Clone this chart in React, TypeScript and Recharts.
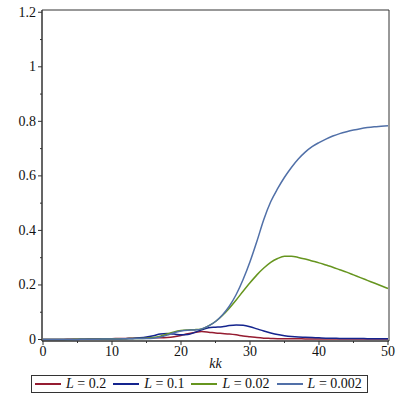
import React from 'react';
import { LineChart, Line, XAxis, YAxis, ReferenceArea } from 'recharts';

// kk values 0..50
const kk = [
  0, 1, 2, 3, 4, 5, 6, 7, 8, 9, 10, 11, 12, 13, 14, 15, 16, 17, 18, 19, 20, 21, 22, 23, 24, 25,
  26, 27, 28, 29, 30, 31, 32, 33, 34, 35, 36, 37, 38, 39, 40, 41, 42, 43, 44, 45, 46, 47, 48, 49, 50,
];

const L0_2 = [
  0, 0, 0, 0, 0.001, 0.001, 0.001, 0.002, 0.002, 0.003, 0.003, 0.004, 0.004, 0.005, 0.005, 0.006,
  0.006, 0.006, 0.007, 0.01, 0.015, 0.021, 0.026, 0.029, 0.027, 0.024, 0.022, 0.02, 0.017, 0.013,
  0.01, 0.007, 0.005, 0.004, 0.003, 0.003, 0.003, 0.003, 0.002, 0.002, 0.002, 0.002, 0.002, 0.002,
  0.002, 0.002, 0.002, 0.002, 0.002, 0.002, 0.002,
];

const L0_1 = [
  0, 0, 0, 0, 0, 0, 0.001, 0.001, 0.001, 0.002, 0.002, 0.002, 0.003, 0.004, 0.006, 0.009, 0.014,
  0.02, 0.022, 0.02, 0.017, 0.018, 0.026, 0.036, 0.043, 0.045, 0.047, 0.051, 0.053, 0.052, 0.047,
  0.039, 0.031, 0.024, 0.018, 0.014, 0.011, 0.009, 0.008, 0.007, 0.006, 0.005, 0.005, 0.004, 0.004,
  0.004, 0.004, 0.003, 0.003, 0.003, 0.003,
];

const L0_02 = [
  0, 0, 0, 0, 0, 0.001, 0.001, 0.001, 0.001, 0.002, 0.002, 0.003, 0.003, 0.004, 0.004, 0.005,
  0.007, 0.012, 0.02, 0.028, 0.033, 0.035, 0.036, 0.039, 0.05, 0.066, 0.088, 0.115, 0.145, 0.177,
  0.208, 0.237, 0.262, 0.283, 0.297, 0.305, 0.305, 0.301, 0.295, 0.288, 0.281, 0.273, 0.265, 0.256,
  0.247, 0.237, 0.227, 0.217, 0.207, 0.197, 0.187,
];

const L0_002 = [
  0, 0, 0, 0, 0, 0, 0.001, 0.001, 0.001, 0.002, 0.002, 0.002, 0.003, 0.003, 0.004, 0.004, 0.005,
  0.009, 0.016, 0.025, 0.031, 0.034, 0.035, 0.039, 0.05, 0.066, 0.09, 0.122, 0.165, 0.22, 0.285,
  0.36, 0.44, 0.505, 0.553, 0.595, 0.631, 0.662, 0.687, 0.707, 0.722, 0.735, 0.746, 0.755, 0.762,
  0.768, 0.773, 0.777, 0.78, 0.782, 0.784,
];

const xTicks = [0, 5, 10, 15, 20, 25, 30, 35, 40, 45, 50];
const yTicks = [0, 0.1, 0.2, 0.3, 0.4, 0.5, 0.6, 0.7, 0.8, 0.9, 1, 1.1, 1.2];

const series = [
  { key: 'a', value: '0.2', color: '#951c31' },
  { key: 'b', value: '0.1', color: '#14248e' },
  { key: 'c', value: '0.02', color: '#66951f' },
  { key: 'd', value: '0.002', color: '#5170a8' },
];

const data = kk.map((k, i) => ({
  kk: k,
  a: L0_2[i],
  b: L0_1[i],
  c: L0_02[i],
  d: L0_002[i],
}));

const X_DOMAIN = [-0.145, 50.145];
const Y_DOMAIN = [-0.0055, 1.2083];
const FONT = '"Liberation Serif", serif';
const AXIS = '#333';
const TEXT = '#111';

const XTick = (props: any) => {
  const { x, y, payload } = props;
  const major = payload.value % 10 === 0;
  return (
    <g>
      <line x1={x} y1={y} x2={x} y2={y + (major ? 4 : 2)} stroke={AXIS} />
      {major && (
        <text x={x} y={y + 15} textAnchor="middle" fontSize={14} fontFamily={FONT} fill={TEXT}>
          {payload.value}
        </text>
      )}
    </g>
  );
};

const YTick = (props: any) => {
  const { x, y, payload } = props;
  const v = Math.round(payload.value * 10);
  const major = v % 2 === 0;
  return (
    <g>
      <line x1={x} y1={y} x2={x - (major ? 4 : 2)} y2={y} stroke={AXIS} />
      {major && (
        <text x={x - 6} y={y + 4.5} textAnchor="end" fontSize={14} fontFamily={FONT} fill={TEXT}>
          {v / 10}
        </text>
      )}
    </g>
  );
};

const App = () => {
  return (
    <div style={{ position: 'fixed', left: 0, top: 0, width: 399, height: 399, background: '#fff' }}>
      <LineChart width={399} height={399} data={data} margin={{ top: 10, right: 10, left: 0, bottom: 28 }}>
        <XAxis
          dataKey="kk"
          type="number"
          domain={X_DOMAIN}
          allowDataOverflow
          ticks={xTicks}
          interval={0}
          tickSize={0}
          tickMargin={0}
          tick={<XTick />}
          height={30}
          axisLine={{ stroke: AXIS }}
          label={{ value: 'kk', position: 'insideBottom', offset: 3, fontSize: 14, fontStyle: 'italic', fontFamily: FONT, fill: TEXT }}
        />
        <YAxis
          type="number"
          domain={Y_DOMAIN}
          allowDataOverflow
          ticks={yTicks}
          interval={0}
          tickSize={0}
          tickMargin={0}
          tick={<YTick />}
          width={42}
          axisLine={{ stroke: AXIS }}
        />
        <ReferenceArea
          x1={X_DOMAIN[0]}
          x2={X_DOMAIN[1]}
          y1={Y_DOMAIN[0]}
          y2={Y_DOMAIN[1]}
          fill="none"
          fillOpacity={0}
          stroke={AXIS}
          strokeWidth={1}
        />
        {series.map((s) => (
          <Line
            key={s.key}
            type="monotone"
            dataKey={s.key}
            stroke={s.color}
            strokeWidth={1.5}
            dot={false}
            isAnimationActive={false}
          />
        ))}
      </LineChart>
      <div
        style={{
          position: 'absolute',
          left: 31,
          top: 375,
          width: 332,
          height: 16,
          border: `1px solid ${AXIS}`,
          display: 'flex',
          alignItems: 'center',
          fontFamily: FONT,
          fontSize: 14,
          color: TEXT,
          paddingLeft: 3,
          boxSizing: 'content-box',
          whiteSpace: 'nowrap',
        }}
      >
        {series.map((s) => (
          <div key={s.key} style={{ display: 'flex', alignItems: 'center', marginRight: 7 }}>
            <span style={{ display: 'inline-block', width: 26, height: 2, background: s.color, marginRight: 5 }} />
            <span>
              <i>L</i> = {s.value}
            </span>
          </div>
        ))}
      </div>
    </div>
  );
};

export default App;
